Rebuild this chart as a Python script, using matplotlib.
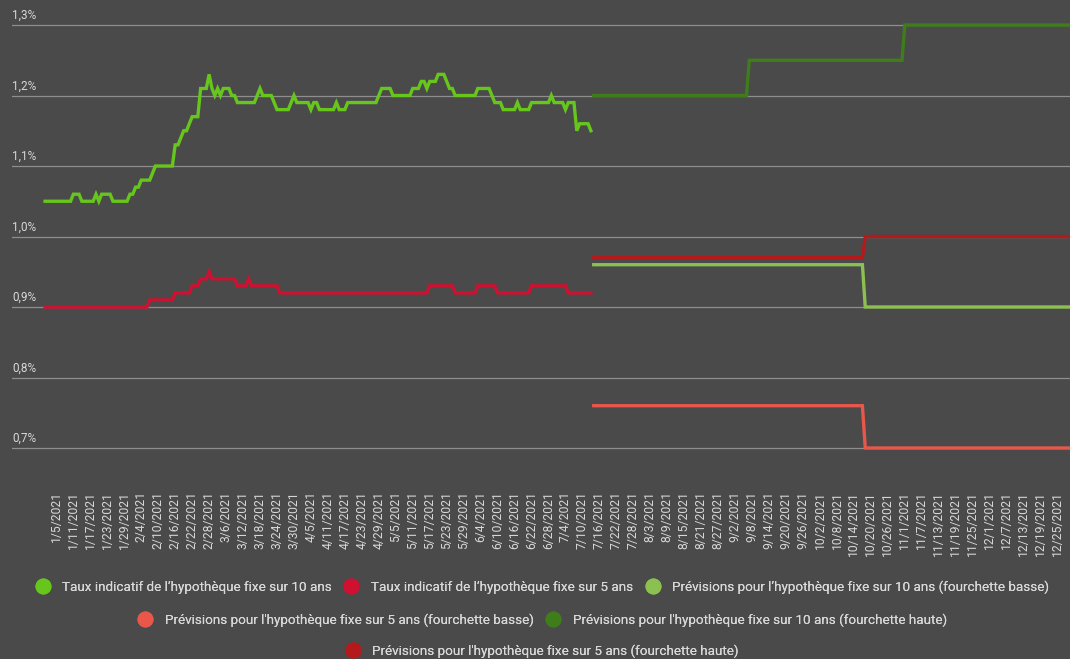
import numpy as np
import pandas as pd
import matplotlib.pyplot as plt
from matplotlib.lines import Line2D

plt.rcParams['font.family'] = ['Roboto', 'DejaVu Sans']

# daily values, stored as levels + number of days at each level
start = pd.Timestamp('2021-01-01')

hist10_levels = [1.05, 1.06, 1.05, 1.06, 1.05, 1.06, 1.05,
                 1.06, 1.07, 1.08, 1.09, 1.10,
                 1.13, 1.14, 1.15, 1.16, 1.17,
                 1.21, 1.23, 1.21, 1.20, 1.21, 1.20, 1.21, 1.20,
                 1.19, 1.20, 1.21, 1.20, 1.19, 1.18, 1.19, 1.20, 1.19, 1.18, 1.19, 1.18, 1.19, 1.18, 1.19,
                 1.20, 1.21, 1.20, 1.21, 1.22, 1.21, 1.22, 1.23, 1.22, 1.21, 1.20, 1.21, 1.20,
                 1.19, 1.18, 1.19, 1.18, 1.19, 1.20, 1.19, 1.18, 1.19,
                 1.15, 1.16, 1.15]
hist10_runs = [10, 3, 5, 1, 1, 4, 6,
               2, 2, 4, 1, 7,
               2, 1, 2, 1, 3,
               3, 1, 1, 1, 1, 1, 3, 2,
               7, 1, 1, 4, 1, 5, 1, 1, 5, 1, 2, 6, 1, 3, 11,
               1, 4, 7, 3, 2, 1, 3, 3, 1, 2, 8, 5, 1,
               3, 5, 1, 4, 7, 1, 4, 1, 3,
               1, 4, 1]

hist5_levels = [0.90, 0.91, 0.92, 0.93, 0.94, 0.95, 0.94, 0.93, 0.94,
                0.93, 0.92, 0.93, 0.92, 0.93, 0.92, 0.93, 0.92]
hist5_runs = [37, 9, 6, 3, 3, 1, 9, 4, 1, 10, 53, 9, 8, 7, 12, 13, 9]

fc_start = 194  # first forecast day (Jul 14)
fc10_low_levels = [0.96, 0.90]
fc10_low_runs = [96, 75]
fc5_low_levels = [0.76, 0.70]
fc5_low_runs = [96, 75]
fc10_high_levels = [1.20, 1.25, 1.30]
fc10_high_runs = [55, 55, 61]
fc5_high_levels = [0.97, 1.00]
fc5_high_runs = [96, 75]

yticks = [0.7, 0.8, 0.9, 1.0, 1.1, 1.2, 1.3]

labels = [
    "Taux indicatif de l’hypothèque fixe sur 10 ans",
    "Taux indicatif de l’hypothèque fixe sur 5 ans",
    "Prévisions pour l’hypothèque fixe sur 10 ans (fourchette basse)",
    "Prévisions pour l'hypothèque fixe sur 5 ans (fourchette basse)",
    "Prévisions pour l'hypothèque fixe sur 10 ans (fourchette haute)",
    "Prévisions pour l'hypothèque fixe sur 5 ans (fourchette haute)",
]
colors = ['#66c61c', '#d01030', '#8cc152', '#e8574a', '#3f7d1a', '#b41a1c']

bg = '#4a4a4a'
txt = '#d8d8d8'


def series(levels, runs, first_day=0):
    vals = np.repeat(levels, runs)
    dates = start + pd.to_timedelta(np.arange(len(vals)) + first_day, unit='D')
    return dates, vals


fig = plt.figure(figsize=(10.7, 6.59), dpi=100, facecolor=bg)
ax = fig.add_axes([12 / 1070, 179 / 659, 1058 / 1070, 480 / 659])
ax.set_facecolor(bg)

data = [
    series(hist10_levels, hist10_runs),
    series(hist5_levels, hist5_runs),
    series(fc10_low_levels, fc10_low_runs, fc_start),
    series(fc5_low_levels, fc5_low_runs, fc_start),
    series(fc10_high_levels, fc10_high_runs, fc_start),
    series(fc5_high_levels, fc5_high_runs, fc_start),
]
for (d, v), c in zip(data, colors):
    ax.plot(d, v, color=c, lw=2.4, solid_joinstyle='miter', zorder=3)

ax.set_ylim(0.6546, 1.3355)
ax.set_xlim(start - pd.Timedelta(days=11.7), start + pd.Timedelta(days=362.4))

for y in yticks:
    ax.axhline(y, color='#8e8e8e', lw=0.9, zorder=1)
    ax.text(0.0, y + 0.004, f"{y:.1f}%".replace('.', ','), transform=ax.get_yaxis_transform(),
            color=txt, fontsize=8.5, ha='left', va='bottom')
ax.set_yticks([])

ticks = pd.date_range('2021-01-05', '2021-12-25', freq='6D')
ax.set_xticks(ticks)
ax.set_xticklabels([f"{t.month}/{t.day}/{t.year}" for t in ticks], rotation=90,
                   va='top', ha='center', color=txt, fontsize=8.7)
ax.tick_params(axis='x', length=0, pad=8)
for s in ax.spines.values():
    s.set_visible(False)

handles = [Line2D([], [], marker='o', linestyle='none', markersize=10.5, color=c) for c in colors]
rows = [(0, 3, 0.1093), (3, 5, 0.0592), (5, 6, 0.0121)]
for a, b, yy in rows:
    leg = fig.legend(handles[a:b], labels[a:b], loc='center', bbox_to_anchor=(0.507, yy),
                     ncol=b - a, frameon=False, fontsize=9.7, labelcolor=txt,
                     handlelength=1.0, handletextpad=0.95, columnspacing=0.95,
                     borderpad=0, borderaxespad=0)
    fig.add_artist(leg)

fig.savefig('out.png', dpi=100, facecolor=bg)
